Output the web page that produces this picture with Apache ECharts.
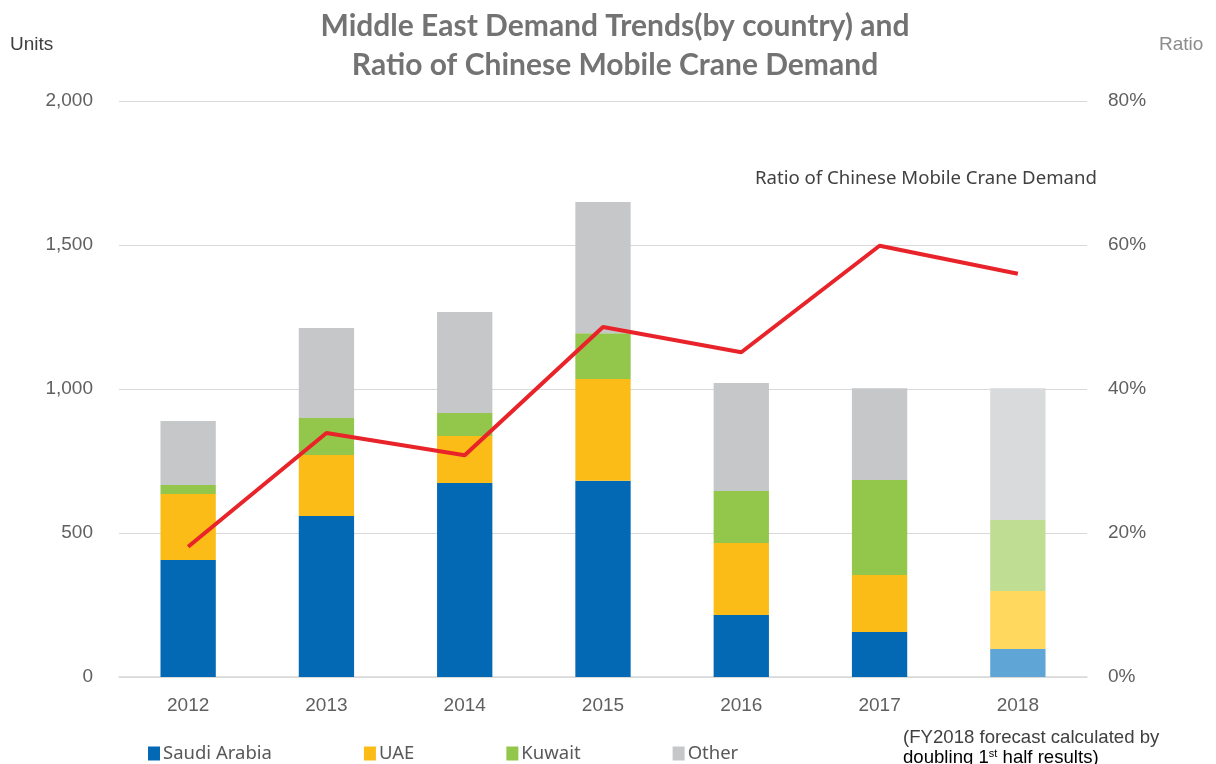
<!DOCTYPE html>
<html>
<head>
<meta charset="utf-8">
<script src="https://cdn.jsdelivr.net/npm/echarts@6/dist/echarts.min.js"></script>
<style>
html, body { margin: 0; padding: 0; background: #fff; }
#main { width: 1216px; height: 764px; }
</style>
</head>
<body>
<div id="main"></div>
<script>
var years = ['2012', '2013', '2014', '2015', '2016', '2017', '2018'];
var saudi = [406, 559, 674, 681, 215, 156, 97];
var uae = [229, 212, 163, 354, 250, 198, 202];
var kuwait = [32, 128, 80, 159, 181, 330, 246];
var other = [222, 313, 350, 455, 375, 319, 458];
var ratio = [0.181, 0.339, 0.308, 0.486, 0.451, 0.599, 0.560];

// 2018 is a forecast -> lighter colours
function barData(vals, light) {
    return vals.map(function (v, i) {
        if (i == vals.length - 1) {
            return { value: v, itemStyle: { color: light } };
        }
        return v;
    });
}

function barSeries(name, vals, color, light) {
    return {
        name: name,
        type: 'bar',
        stack: 'units',
        barWidth: '40%',
        itemStyle: { color: color },
        data: barData(vals, light)
    };
}

var chart = echarts.init(document.getElementById('main'));
var option = {
    animation: false,
    title: {
        text: 'Middle East Demand Trends(by country) and\nRatio of Chinese Mobile Crane Demand',
        left: 610,
        top: 2,
        textAlign: 'center',
        textStyle: {
            fontFamily: 'Lato',
            fontWeight: 'bold',
            fontSize: 30,
            lineHeight: 39,
            color: '#737373'
        }
    },
    legend: {
        data: ['Saudi Arabia', 'UAE', 'Kuwait', 'Other'],
        left: 143,
        top: 739,
        icon: 'rect',
        itemWidth: 12,
        itemHeight: 14,
        itemGap: 92,
        textStyle: { fontFamily: 'Noto Sans', fontSize: 18.5, color: '#595959', padding: [0, 0, 0, -2] }
    },
    grid: { left: 119, right: 129, top: 101, bottom: 87 },
    xAxis: {
        type: 'category',
        data: years,
        axisTick: { show: false },
        axisLine: { lineStyle: { color: '#d9d9d9', width: 1.5 } },
        axisLabel: { fontFamily: 'Liberation Sans', fontSize: 19, color: '#606060', margin: 19 }
    },
    yAxis: [
        {
            type: 'value',
            min: 0,
            max: 2000,
            interval: 500,
            splitLine: { lineStyle: { color: '#d9d9d9', width: 1.2 } },
            axisLabel: {
                fontFamily: 'Liberation Sans', fontSize: 19, color: '#606060', margin: 26,
                formatter: function (v) { return v.toLocaleString('en-US'); }
            }
        },
        {
            type: 'value',
            min: 0,
            max: 0.8,
            interval: 0.2,
            splitLine: { show: false },
            axisLabel: {
                fontFamily: 'Liberation Sans', fontSize: 19, color: '#606060', margin: 21,
                formatter: function (v) { return Math.round(v * 100) + '%'; }
            }
        }
    ],
    graphic: [
        { type: 'text', left: 10, top: 35, style: { text: 'Units', fontFamily: 'Liberation Sans', fontSize: 19, fill: '#404040' } },
        { type: 'text', left: 1159, top: 35, style: { text: 'Ratio', fontFamily: 'Liberation Sans', fontSize: 19, fill: '#8c8c8c' } },
        { type: 'text', left: 755, top: 169, style: { text: 'Ratio of Chinese Mobile Crane Demand', fontFamily: 'Noto Sans', fontSize: 18.6, fill: '#404040' } },
        { type: 'text', left: 903, top: 728, style: { text: '(FY2018 forecast calculated by', fontFamily: 'Liberation Sans', fontSize: 18.6, fill: '#404040' } },
        {
            type: 'text', left: 903, top: 748,
            style: {
                text: '{a|doubling 1}{s|st}{a| half results)}',
                rich: {
                    a: { fontFamily: 'Liberation Sans', fontSize: 18.6, color: '#404040' },
                    s: { fontFamily: 'Liberation Sans', fontSize: 11, color: '#404040', verticalAlign: 'top', padding: [0, 0, 8, 0] }
                }
            }
        }
    ],
    series: [
        barSeries('Saudi Arabia', saudi, '#0369b5', '#5fa6d6'),
        barSeries('UAE', uae, '#fbbc17', '#ffd85d'),
        barSeries('Kuwait', kuwait, '#92c74b', '#bfdd93'),
        barSeries('Other', other, '#c6c7c9', '#d9dadc'),
        {
            name: 'Ratio',
            type: 'line',
            yAxisIndex: 1,
            data: ratio,
            symbol: 'none',
            lineStyle: { color: '#e8242a', width: 4 },
            itemStyle: { color: '#e8242a' },
            z: 5
        }
    ]
};
chart.setOption(option);
</script>
</body>
</html>
